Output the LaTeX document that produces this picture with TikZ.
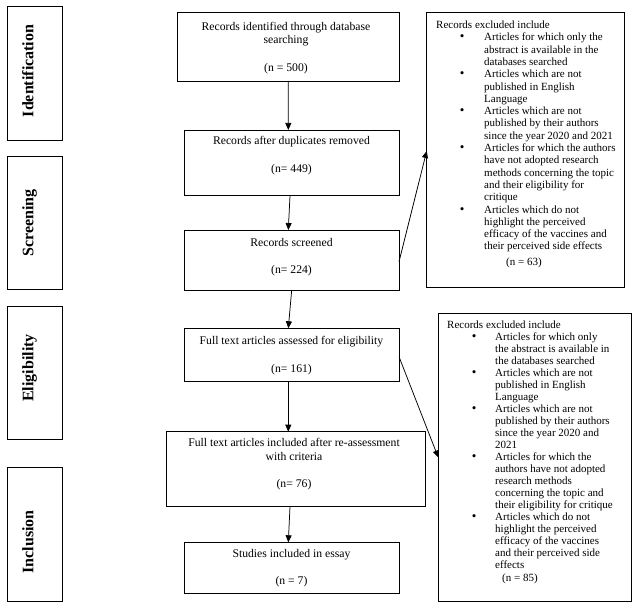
\documentclass[tikz,border=0pt]{standalone}
\usepackage{fontspec}
\setmainfont{Liberation Serif}
\usetikzlibrary{arrows.meta}
\newcommand{\bul}[1]{\hspace*{#1}{\fontsize{13}{12}\selectfont\textbullet}}
\begin{document}
\begin{tikzpicture}[x=1pt,y=-1pt,
  box/.style={draw=black, line width=0.75pt, inner sep=0pt, outer sep=0pt},
  stagelbl/.style={font=\fontsize{16}{19}\selectfont\bfseries, rotate=90, anchor=base, inner sep=0pt},
  mtxt/.style={font=\fontsize{11.7}{13.8}\selectfont, align=center, anchor=north, inner sep=0pt},
  extxt/.style={anchor=north west, inner sep=0pt},
  arr/.style={line width=0.75pt, -{Triangle[length=7pt,width=6pt]}}
]
\useasboundingbox (0,0) rectangle (634,609);
\fill[white] (0,0) rectangle (634,609);

% stage boxes
\node[box, minimum width=55pt, minimum height=134pt] (s1) at (34.8,73) {};
\node[box, minimum width=55pt, minimum height=133pt] (s2) at (34.8,222.5) {};
\node[box, minimum width=55pt, minimum height=133pt] (s3) at (34.8,372.5) {};
\node[box, minimum width=55pt, minimum height=133.7pt] (s4) at (34.8,534.2) {};
\node[stagelbl] (l1) at (33.3,71) {Identification};
\node[stagelbl] (l2) at (33.3,223) {Screening};
\node[stagelbl] (l3) at (33.3,368) {Eligibility};
\node[stagelbl] (l4) at (33.3,541.7) {Inclusion};

% main boxes
\node[box, minimum width=221.3pt, minimum height=68.7pt] (b1) at (288.35,46.65) {};
\node[box, minimum width=215pt, minimum height=65.7pt] (b2) at (291.5,162.85) {};
\node[box, minimum width=215pt, minimum height=60pt] (b3) at (291.5,260) {};
\node[box, minimum width=215pt, minimum height=53.4pt] (b4) at (291.5,355) {};
\node[box, minimum width=259pt, minimum height=75pt] (b5) at (295.5,469.2) {};
\node[box, minimum width=215pt, minimum height=51pt] (b6) at (291.5,567.8) {};

\node[mtxt] (t1) at (286,21.6) {Records identified through database\\searching\\[13.8pt](n = 500)};
\node[mtxt] (t2) at (291.5,136.5) {Records after duplicates removed\\[13.8pt](n= 449)};
\node[mtxt] (t3) at (291.5,237.9) {Records screened\\[13.8pt](n= 224)};
\node[mtxt] (t4) at (291.5,336.2) {Full text articles assessed for eligibility\\[13.8pt](n= 161)};
\node[mtxt] (t5) at (294,437.9) {Full text articles included after re-assessment\\with criteria\\[13.8pt](n= 76)};
\node[mtxt] (t6) at (291.5,548.9) {Studies included in essay\\[13.8pt](n = 7)};

% exclusion boxes
\node[box, minimum width=197.6pt, minimum height=274.7pt] (e1) at (525.5,149.65) {};
\node[box, minimum width=193.4pt, minimum height=288.4pt] (e2) at (535,457.5) {};

\node[extxt, font=\fontsize{11}{12.3}\selectfont] (x1) at (436,19.7) {%
\begin{tabular}{@{}p{48pt}@{}l@{}}
\multicolumn{2}{@{}l@{}}{Records excluded include}\\
\bul{23.7pt} & Articles for which only the\\
 & abstract is available in the\\
 & databases searched\\
\bul{23.7pt} & Articles which are not\\
 & published in English\\
 & Language\\
\bul{23.7pt} & Articles which are not\\
 & published by their authors\\
 & since the year 2020 and 2021\\
\bul{23.7pt} & Articles for which the authors\\
 & have not adopted research\\
 & methods concerning the topic\\
 & and their eligibility for\\
 & critique\\
\bul{23.7pt} & Articles which do not\\
 & highlight the perceived\\
 & efficacy of the vaccines and\\
 & their perceived side effects\\[3.5pt]
 & \hspace*{22pt}(n = 63)
\end{tabular}};

\node[extxt, font=\fontsize{11}{12}\selectfont] (x2) at (447,319.9) {%
\begin{tabular}{@{}p{48pt}@{}l@{}}
\multicolumn{2}{@{}l@{}}{Records excluded include}\\
\bul{24.7pt} & Articles for which only\\
 & the abstract is available in\\
 & the databases searched\\
\bul{24.7pt} & Articles which are not\\
 & published in English\\
 & Language\\
\bul{24.7pt} & Articles which are not\\
 & published by their authors\\
 & since the year 2020 and\\
 & 2021\\
\bul{24.7pt} & Articles for which the\\
 & authors have not adopted\\
 & research methods\\
 & concerning the topic and\\
 & their eligibility for critique\\
\bul{24.7pt} & Articles which do not\\
 & highlight the perceived\\
 & efficacy of the vaccines\\
 & and their perceived side\\
 & effects\\[1pt]
 & \hspace*{7pt}(n = 85)
\end{tabular}};

% connectors
\draw[arr] (b1.south) -- ([xshift=-3.2pt]b2.north);
\draw[arr] ([xshift=-1.5pt]b2.south) -- ([xshift=-3.2pt]b3.north);
\draw[arr] ([xshift=0.2pt]b3.south) -- ([xshift=-3.2pt]b4.north);
\draw[arr] ([xshift=-3.2pt]b4.south) -- ([xshift=-7.2pt]b5.north);
\draw[arr] ([xshift=-5.5pt]b5.south) -- ([xshift=-3.2pt]b6.north);
\draw[arr] ([yshift=-1.7pt]b3.east) -- ([yshift=-1.35pt]e1.west);
\draw[arr] ([yshift=-1.7pt]b4.east) -- (e2.west);
\end{tikzpicture}
\end{document}
